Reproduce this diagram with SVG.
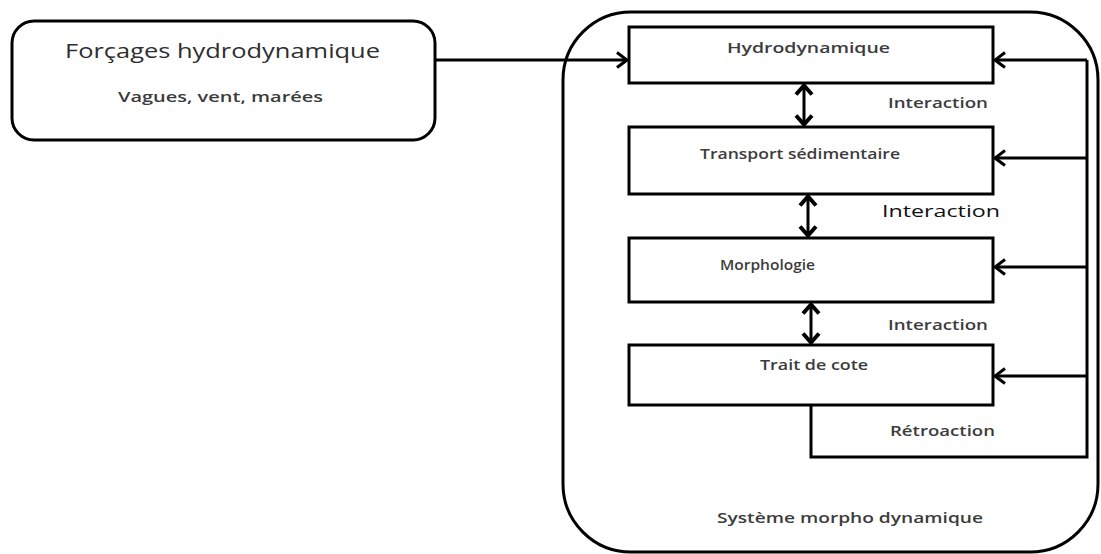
<svg xmlns="http://www.w3.org/2000/svg" width="1101" height="554" viewBox="0 0 1101 554">
<style>
.box{fill:#fff;stroke:#000;stroke-width:3}
.ln{fill:none;stroke:#000;stroke-width:3}
.t{font-family:"Open Sans","DejaVu Sans",sans-serif;fill:#3c3c3c;font-weight:600}
</style>
<defs>
<marker id="arr" viewBox="0 0 12 18" refX="11" refY="9" markerWidth="12" markerHeight="18" markerUnits="userSpaceOnUse" orient="auto-start-reverse">
<path d="M1,1.5 L11,9 L1,16.5" fill="none" stroke="#000" stroke-width="3"/>
</marker>
<marker id="dbl" viewBox="0 0 12 20" refX="11" refY="10" markerWidth="12" markerHeight="20" markerUnits="userSpaceOnUse" orient="auto-start-reverse">
<path d="M1.5,2 L10.5,10 L1.5,18" fill="none" stroke="#000" stroke-width="4"/>
</marker>
</defs>
<rect width="1101" height="554" fill="#fff"/>
<g id="systeme">
<rect x="563" y="12" width="535" height="540" rx="68" ry="68" class="box"/>
<text class="t" x="717" y="523" font-size="15" textLength="266" lengthAdjust="spacingAndGlyphs">Système morpho dynamique</text>
</g>
<g id="forcages">
<rect x="12" y="21" width="423" height="119" rx="22" ry="22" class="box"/>
<text class="t" x="65" y="58" font-size="20" textLength="315" lengthAdjust="spacingAndGlyphs" style="font-weight:400;fill:#2e2e2e">Forçages hydrodynamique</text>
<text class="t" x="118" y="102" font-size="15" textLength="205" lengthAdjust="spacingAndGlyphs">Vagues, vent, marées</text>
</g>
<g id="hydro">
<rect x="629" y="27" width="364" height="56" class="box"/>
<text class="t" x="727" y="53" font-size="15" textLength="163" lengthAdjust="spacingAndGlyphs">Hydrodynamique</text>
</g>
<g id="transport">
<rect x="629" y="127" width="364" height="67" class="box"/>
<text class="t" x="700" y="159" font-size="15" textLength="200" lengthAdjust="spacingAndGlyphs">Transport sédimentaire</text>
</g>
<g id="morpho">
<rect x="629" y="238" width="364" height="64" class="box"/>
<text class="t" x="720" y="270" font-size="15" textLength="95" lengthAdjust="spacingAndGlyphs">Morphologie</text>
</g>
<g id="trait">
<rect x="629" y="345" width="364" height="60" class="box"/>
<text class="t" x="760" y="370" font-size="15" textLength="108" lengthAdjust="spacingAndGlyphs">Trait de cote</text>
</g>
<g id="connectors">
<line x1="435" y1="60" x2="627" y2="60" class="ln" marker-end="url(#arr)"/>
<line x1="804" y1="85" x2="804" y2="125" class="ln" marker-start="url(#dbl)" marker-end="url(#dbl)"/>
<line x1="808" y1="196" x2="808" y2="236" class="ln" marker-start="url(#dbl)" marker-end="url(#dbl)"/>
<line x1="811" y1="304" x2="811" y2="343" class="ln" marker-start="url(#dbl)" marker-end="url(#dbl)"/>
<polyline points="811,405 811,457 1087,457 1087,60" class="ln"/>
<line x1="1087" y1="60" x2="995" y2="60" class="ln" marker-end="url(#arr)"/>
<line x1="1087" y1="158" x2="995" y2="158" class="ln" marker-end="url(#arr)"/>
<line x1="1087" y1="267" x2="995" y2="267" class="ln" marker-end="url(#arr)"/>
<line x1="1087" y1="376" x2="995" y2="376" class="ln" marker-end="url(#arr)"/>
<text class="t" x="888" y="108" font-size="14" textLength="100" lengthAdjust="spacingAndGlyphs">Interaction</text>
<text class="t" x="882" y="217" font-size="17" textLength="118" lengthAdjust="spacingAndGlyphs" style="fill:#111;font-weight:400">Interaction</text>
<text class="t" x="888" y="330" font-size="14" textLength="100" lengthAdjust="spacingAndGlyphs">Interaction</text>
<text class="t" x="890" y="436" font-size="14" textLength="105" lengthAdjust="spacingAndGlyphs">Rétroaction</text>
</g>
</svg>
